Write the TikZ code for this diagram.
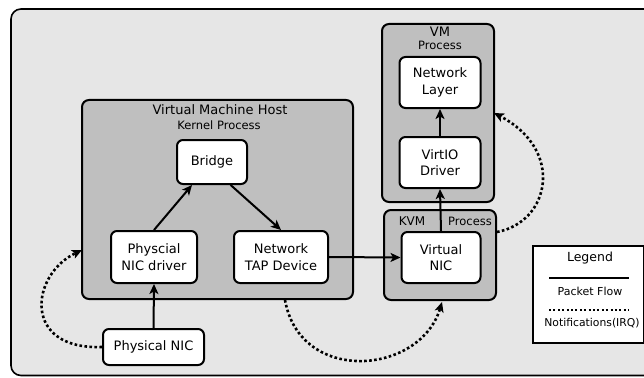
\documentclass[tikz,border=0pt]{standalone}
\usepackage{fontspec}
\setmainfont{DejaVu Sans}
\usetikzlibrary{arrows.meta}
\definecolor{panel}{RGB}{230,230,230}
\definecolor{zone}{RGB}{191,191,191}
\tikzset{
  >={Stealth[length=10pt,width=9pt,inset=2.5pt]},
  unit/.style={draw, fill=white, line width=2pt, rounded corners=6pt,
    align=center, inner sep=2pt, font=\fontsize{13}{16.5}\selectfont},
  zonebox/.style={draw, fill=zone, line width=2pt, rounded corners=7pt},
  flow/.style={->, line width=2pt},
  irq/.style={->, line width=2.6pt, dash pattern=on 2.6pt off 2.4pt},
  title/.style={inner sep=0pt, font=\fontsize{13}{15}\selectfont},
  subtitle/.style={inner sep=0pt, font=\fontsize{11.5}{13}\selectfont},
}
\begin{document}
\begin{tikzpicture}[x=1pt,y=-1pt]
\useasboundingbox (0,0) rectangle (644,377);
\fill[white] (0,0) rectangle (644,377);
% outer panel
\draw[line width=1.6pt, fill=panel, rounded corners=10pt] (11,9) rectangle (680,375.5);
% process areas
\draw[zonebox] (82,100) rectangle (353,299);
\draw[zonebox] (382,24) rectangle (494,202);
\draw[zonebox] (384,210) rectangle (496,300);
% area labels
\node[title] (hostT) at (220,110) {Virtual Machine Host};
\node[subtitle] (hostS) at (219,125) {Kernel Process};
\node[title] (vmT) at (440,32) {VM};
\node[subtitle] (vmS) at (440,45) {Process};
\node[title, font=\fontsize{12}{14}\selectfont] (kvmT) at (412,221) {KVM};
\node[subtitle] (kvmS) at (470,221) {Process};
% components
\node[unit, minimum width=101pt, minimum height=36pt] (pnic) at (153.5,347) {Physical NIC};
\node[unit, minimum width=86pt, minimum height=52pt] (drv) at (154,257) {Physcial\\NIC driver};
\node[unit, minimum width=70pt, minimum height=44pt] (bridge) at (212,162) {Bridge};
\node[unit, minimum width=94pt, minimum height=52pt] (tap) at (281,257) {Network\\TAP Device};
\node[unit, minimum width=79pt, minimum height=51pt] (vnic) at (441,257.5) {Virtual\\NIC};
\node[unit, minimum width=81pt, minimum height=51pt] (virtio) at (440,162.5) {VirtIO\\Driver};
\node[unit, minimum width=81pt, minimum height=51pt] (netl) at (440,82.5) {Network\\Layer};
% packet flow
\draw[flow] (pnic.north) -- (drv.south);
\draw[flow] (drv.north) -- (bridge.229);
\draw[flow] (bridge.309) -- (tap.north);
\draw[flow] (tap.east) -- (vnic.west);
\draw[flow] (vnic.north) -- (virtio.south);
\draw[flow] (virtio.north) -- (netl.south);
% notifications
\coordinate (hostL) at (82,250);
\coordinate (hostB) at (285,300);
\coordinate (kvmB) at (442,302);
\coordinate (kvmR) at (497,232);
\coordinate (vmR) at (494,113);
\draw[irq] (pnic.west) .. controls (22,350) and (30,275) .. (hostL);
\draw[irq] (hostB) .. controls (300,385) and (420,375) .. (kvmB);
\draw[irq] (kvmR) .. controls (550,222) and (565,150) .. (vmR);
% legend
\draw[line width=1.5pt, fill=white] (533,246) rectangle (643.5,343);
\node[inner sep=0pt, font=\fontsize{12.5}{14}\selectfont] (lg) at (590,258) {Legend};
\coordinate (s1) at (549,278);
\coordinate (s2) at (629,278);
\draw[line width=2pt] (s1) -- (s2);
\node[inner sep=0pt, font=\fontsize{11}{13}\selectfont] (lpf) at (590,291) {Packet Flow};
\coordinate (d1) at (549,310);
\coordinate (d2) at (629,310);
\draw[line width=2.2pt, dash pattern=on 2pt off 2.4pt] (d1) -- (d2);
\node[inner sep=0pt, font=\fontsize{10.8}{13}\selectfont] (lirq) at (592,323) {Notifications(IRQ)};
\end{tikzpicture}
\end{document}
